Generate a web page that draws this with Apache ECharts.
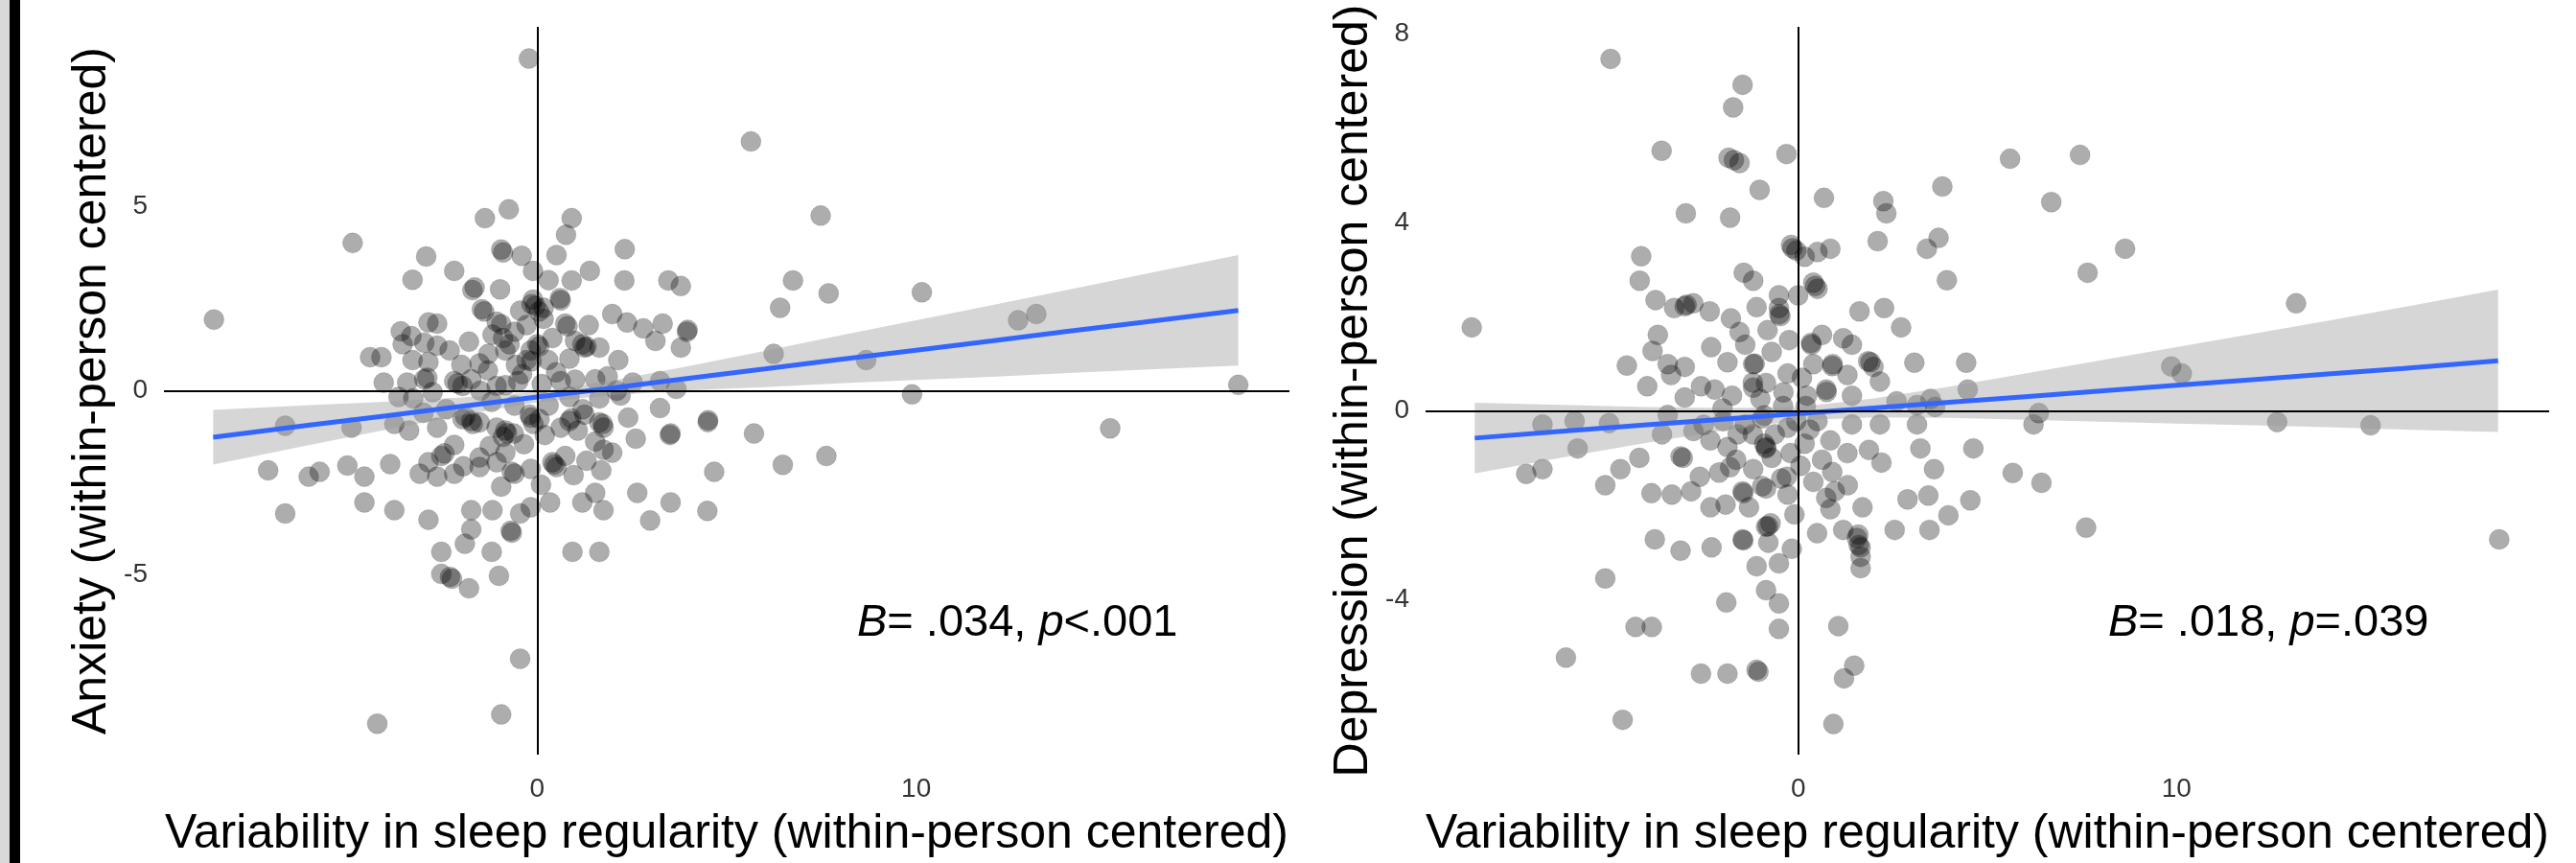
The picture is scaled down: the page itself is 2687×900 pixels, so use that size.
<!DOCTYPE html>
<html>
<head>
<meta charset="utf-8">
<script src="https://cdn.jsdelivr.net/npm/echarts@6/dist/echarts.min.js"></script>
<style>
html, body { margin: 0; padding: 0; background: #fff; }
#chart { width: 2687px; height: 900px; }
</style>
</head>
<body>
<div id="chart"></div>
<script>
var FONT = '"Liberation Sans", Arial, Helvetica, sans-serif';

var xTitle = 'Variability in sleep regularity (within-person centered)';
var anxTitle = 'Anxiety (within-person centered)';
var depTitle = 'Depression (within-person centered)';

var xTicks = [0, 10];
var anxTicks = [-5, 0, 5];
var depTicks = [-4, 0, 4, 8];

// anxiety panel: [sleep variability, anxiety]
var anxietyPoints = [
	[-0.22,9.01],[-4.87,4.01],[-8.53,1.93],[-1.38,4.68],[-0.75,4.92],[0.91,4.68],[0.76,4.23],[-2.93,3.64],
	[-0.95,3.83],[-0.41,3.66],[0.51,3.68],[-3.29,3.01],[-2.19,3.25],[-0.11,3.25],[-0.98,2.75],[-1.71,2.73],
	[0.91,2.99],[1.39,3.25],[0.60,2.51],[-0.11,2.47],[-1.46,2.21],[-0.45,2.17],[0.17,2.25],[1.98,2.08],
	[-2.87,1.85],[-3.60,1.61],[-2.64,1.82],[-1.07,1.87],[0.74,1.82],[1.36,1.78],[-1.80,1.33],[-1.18,1.52],
	[-3.32,1.48],[-2.98,1.30],[-3.55,1.26],[-2.64,1.22],[-0.73,1.26],[0.00,1.26],[1.19,1.26],[1.64,1.17],
	[-4.41,0.91],[-4.11,0.91],[-3.29,0.83],[-2.87,0.78],[-1.29,1.00],[-0.84,1.09],[-0.28,0.83],[0.29,0.83],
	[0.85,0.87],[2.14,0.83],[-1.52,0.74],[-0.56,0.70],[-4.05,0.22],[-3.43,0.22],[-2.98,0.31],[-2.19,0.26],
	[-1.97,0.13],[-1.07,0.13],[-0.50,0.26],[0.12,0.18],[0.62,0.26],[1.53,0.31],[1.86,0.39],[-3.66,-0.17],
	[-3.27,-0.21],[-2.76,-0.04],[0.85,-0.17],[1.64,-0.21],[2.20,-0.13],[-0.28,1.78],[0.17,1.95],[-2.31,1.09],
	[-0.05,2.30],[-0.90,1.43],[-0.17,1.09],[-1.74,0.31],[0.40,1.43],
	[-6.65,-0.95],[-4.90,-1.00],[-3.77,-0.90],[-3.38,-1.08],[-2.64,-1.00],[-1.97,-0.77],[-1.52,-0.86],[-0.84,-1.08],
	[-0.17,-0.73],[0.85,-0.82],[1.64,-0.86],[-1.74,-0.82],[-1.07,-1.00],[-0.62,-1.16],[0.06,-0.77],[0.62,-1.00],
	[1.07,-1.08],[1.75,-1.00],[-2.19,-1.47],[-2.53,-1.77],[-2.87,-1.94],[-1.52,-1.81],[-1.07,-1.94],[-0.84,-1.68],
	[0.40,-1.94],[0.74,-1.77],[1.53,-1.38],[1.75,-1.60],[1.98,-1.68],[-7.10,-2.16],[-6.03,-2.33],[-5.74,-2.20],
	[-5.01,-2.03],[-4.56,-2.33],[-3.88,-1.99],[-3.10,-2.25],[-2.64,-2.33],[-2.19,-2.25],[-1.52,-2.07],[-0.67,-2.20],
	[-0.17,-2.12],[0.51,-2.07],[0.96,-2.29],[1.69,-2.16],[-6.65,-3.33],[-4.56,-3.03],[-3.77,-3.24],[-2.87,-3.50],
	[-1.74,-3.24],[-1.18,-3.24],[-0.45,-3.33],[-0.17,-3.16],[0.34,-3.03],[1.19,-3.03],[1.53,-2.77],[1.75,-3.24],
	[-1.74,-3.76],[-0.67,-3.85],[-2.53,-4.37],[-1.91,-4.15],[-1.20,-4.37],[0.93,-4.37],[1.64,-4.37],[-2.53,-4.97],
	[-2.25,-5.10],[-1.80,-5.36],[-1.01,-5.02],[-0.45,-7.27],[-0.95,-8.78],[-4.22,-9.03],
	[5.64,6.76],[7.48,4.75],[2.31,3.84],[2.30,2.99],[3.46,2.99],[3.79,2.84],[6.75,2.99],[7.69,2.64],
	[10.15,2.67],[6.41,2.25],[2.37,1.85],[2.80,1.69],[3.31,1.82],[3.97,1.65],[3.12,1.35],[3.79,1.17],
	[6.24,1.00],[8.68,0.83],[12.69,1.91],[13.17,2.08],[18.50,0.16],[9.89,-0.10],[3.67,0.05],[3.24,0.26],
	[2.52,0.22],[2.40,-0.73],[3.24,-0.47],[3.52,-1.16],[4.51,-0.80],[5.72,-1.16],[4.67,-2.20],[6.48,-2.01],
	[7.63,-1.77],[2.64,-2.77],[3.52,-3.03],[2.98,-3.52],[4.49,-3.26],[15.12,-1.02],
	// overlapping points in the darker clusters
	[-0.90,3.75],[-1.65,2.80],[-0.15,2.35],[0.05,2.15],[0.62,2.45],[-1.40,2.15],[-0.95,1.80],[0.80,1.75],
	[1.30,1.20],[0.05,1.20],[-0.15,0.80],[-0.84,0.15],[-2.90,0.35],[-2.10,0.20],[-1.90,-0.70],[-1.70,-0.90],
	[-0.80,-1.15],[-0.90,-1.25],[-0.20,-0.65],[-0.10,-0.90],[0.45,-2.00],[-0.60,-2.25],[-2.45,-1.70],[0.90,-0.75],
	[-0.70,-3.80],[-2.30,-5.05],[3.95,1.60],[1.25,1.17],[1.00,1.35],[3.50,-1.20],[4.50,-0.85],[1.25,-0.65],
	[1.73,-0.90],[-1.50,0.00],[-1.20,-0.30],[-0.60,-0.40],[0.30,-0.40],[1.20,-0.50],[-2.40,-0.50],[-3.00,-0.60],
	[0.50,0.50],[-0.40,0.45],[1.00,0.30],[-1.30,0.55],[-2.00,0.70],[-0.60,1.60],[0.30,3.00],[-1.25,-1.50],
	[-0.35,-1.45],[0.20,-1.20],[-1.95,-2.05],[-0.95,-2.60],[0.10,-2.55],[1.30,-1.90],[2.60,-1.30],[2.10,0.00]
];

// depression panel: [sleep variability, depression]
var depressionPoints = [
	[-4.96,7.47],[-1.47,6.92],[-1.72,6.44],[-3.61,5.52],[-1.84,5.37],[-1.55,5.26],[-0.31,5.45],[-1.02,4.69],
	[0.68,4.52],[2.25,4.45],[2.33,4.19],[-2.97,4.19],[-1.80,4.10],[-0.19,3.52],[-0.05,3.40],[0.17,3.27],
	[0.51,3.37],[0.85,3.44],[2.10,3.60],[-4.15,3.28],[-4.19,2.76],[-1.44,2.93],[-1.19,2.76],[0.40,2.72],
	[0.51,2.59],[-0.51,2.45],[0.00,2.45],[-3.77,2.35],[-3.28,2.18],[-3.00,2.22],[-2.77,2.28],[-2.34,2.11],
	[-1.78,1.96],[-1.10,2.20],[-0.51,2.18],[-0.47,2.01],[1.62,2.11],[2.27,2.18],[2.72,1.77],[-8.63,1.77],
	[-3.71,1.61],[-1.55,1.67],[-0.81,1.71],[-0.24,1.50],[0.34,1.44],[0.63,1.61],[1.19,1.54],[1.42,1.40],
	[1.91,1.03],[-4.53,0.96],[-3.85,1.27],[-3.45,0.99],[-3.00,0.93],[-3.36,0.76],[-1.87,1.03],[-1.19,0.99],
	[-0.85,0.59],[-1.19,0.49],[-0.28,0.79],[0.40,0.99],[0.91,0.99],[0.74,0.45],[1.30,0.76],[1.99,0.93],
	[2.16,0.62],[-3.99,0.52],[-3.00,0.28],[-2.57,0.52],[-2.21,0.45],[-1.75,0.32],[-0.39,0.39],[0.23,0.32],
	[1.42,0.32],
	[-6.76,-0.29],[-5.91,-0.22],[-5.00,-0.26],[-5.83,-0.80],[-7.19,-1.34],[-6.76,-1.24],[-4.70,-1.24],[-5.10,-1.58],
	[-3.88,-1.75],[-3.34,-1.78],[-2.83,-1.71],[-3.11,-0.97],[-3.45,-0.09],[-2.77,-0.43],[-2.32,-0.63],[-1.87,-0.77],
	[-1.64,-1.04],[-0.85,-0.77],[-0.62,-0.50],[-0.96,-0.16],[-0.28,-0.36],[0.17,-0.70],[0.63,-1.04],[0.85,-0.63],
	[1.42,-0.29],[1.87,-0.83],[2.16,-0.29],[0.51,-0.22],[-1.41,-0.29],[-1.98,-0.22],[-2.09,-1.31],[-1.47,-1.71],
	[-0.85,-1.65],[-0.45,-1.44],[-0.28,-1.78],[-2.32,-2.05],[-1.92,-1.99],[-1.30,-2.05],[-0.73,-2.39],[0.40,-1.51],
	[0.74,-1.85],[0.97,-1.71],[1.31,-1.58],[1.70,-2.05],[0.85,-2.09],[1.19,-2.53],[1.59,-2.63],[1.65,-2.90],
	[1.65,-3.10],[1.65,-3.34],[2.55,-2.53],[2.89,-1.88],[-3.79,-2.73],[-3.11,-2.97],[-2.29,-2.90],[-1.47,-2.73],
	[-0.85,-2.46],[-0.79,-2.80],[-0.17,-2.93],[-0.51,-3.24],[-5.10,-3.56],[-1.90,-4.07],[-0.85,-3.81],[-0.51,-4.09],
	[-4.30,-4.59],[-3.87,-4.59],[-0.51,-4.63],[1.06,-4.57],[-6.14,-5.24],[-2.57,-5.58],[-1.87,-5.58],[-1.05,-5.54],
	[1.48,-5.41],[1.21,-5.68],[-4.64,-6.56],[0.93,-6.65],[-0.05,-0.22],[0.06,-1.17],[-1.19,-1.24],
	[5.60,5.35],[7.45,5.43],[3.81,4.76],[6.69,4.43],[3.71,3.67],[3.40,3.44],[8.64,3.44],[7.65,2.93],
	[3.93,2.77],[13.16,2.28],[3.07,1.02],[4.44,1.02],[4.48,0.45],[9.86,0.94],[10.14,0.79],[3.50,0.25],
	[3.14,0.12],[12.66,-0.24],[15.13,-0.31],[6.22,-0.29],[6.36,-0.05],[3.14,-0.29],[3.23,-0.80],[4.63,-0.80],
	[3.59,-1.24],[5.67,-1.32],[6.43,-1.53],[3.44,-1.80],[4.55,-1.90],[3.97,-2.22],[3.47,-2.53],[7.61,-2.48],
	[18.53,-2.73],[3.62,0.08],
	// overlapping points in the darker clusters
	[-0.15,3.45],[0.45,2.65],[-2.95,2.25],[-1.70,5.32],[-0.50,2.05],[0.35,1.40],[0.90,0.95],[1.85,1.05],
	[-1.15,1.00],[-1.20,0.60],[0.75,0.40],[-3.05,-1.00],[-0.85,-0.80],[-0.90,-0.70],[-0.30,-1.40],[-0.95,-1.60],
	[-1.45,-1.75],[1.55,-2.70],[1.60,-2.85],[-1.10,-5.50],[-1.45,-2.75],[-0.80,-2.45],[-1.20,-0.50],[-0.70,-1.00],
	[-0.20,-0.90],[0.30,-0.40],[-1.60,-0.50],[-2.50,-0.30],[0.90,-1.30],[1.30,-0.90],[-0.40,0.10],[0.20,0.10],
	[-2.00,0.05],[-1.00,0.25],[-1.40,1.40],[-0.70,1.25],[-2.30,1.35],[0.10,0.70],[-0.90,-0.10],[-1.80,-1.20],
	[-2.60,-1.40],[-0.10,-2.20],[0.50,-2.60],[-1.10,-3.30],[2.20,-1.10],[2.60,0.20],[-3.60,-0.50],[-4.20,-1.00]
];

// smoother + confidence band
var bandX   = [-8.55, -6, -4, -2, 0, 2, 4, 6, 8, 10, 12, 14, 16, 18.5];
var anxFit  = [-1.26, -0.93, -0.68, -0.42, -0.17, 0.08, 0.34, 0.59, 0.85, 1.10, 1.35, 1.61, 1.86, 2.18];
var anxLow  = [-2.00, -1.47, -1.06, -0.66, -0.31, -0.12, 0.01, 0.10, 0.20, 0.29, 0.38, 0.48, 0.57, 0.68];
var anxHigh = [-0.52, -0.39, -0.30, -0.18, -0.03, 0.28, 0.67, 1.08, 1.50, 1.91, 2.32, 2.74, 3.16, 3.68];
var depFit  = [-0.58, -0.42, -0.30, -0.18, -0.06, 0.06, 0.18, 0.30, 0.42, 0.54, 0.66, 0.78, 0.90, 1.06];
var depLow  = [-1.33, -0.96, -0.68, -0.42, -0.20, -0.14, -0.15, -0.19, -0.23, -0.27, -0.31, -0.35, -0.40, -0.45];
var depHigh = [0.17, 0.12, 0.08, 0.06, 0.08, 0.26, 0.51, 0.79, 1.07, 1.35, 1.63, 1.91, 2.20, 2.57];

var chart = echarts.init(document.getElementById('chart'));

function pairs(xs, ys) {
	return xs.map(function (x, i) { return [x, ys[i]]; });
}

function xAxisFor(idx) {
	return {
		gridIndex: idx, type: 'value', min: -9.85, max: 19.85,
		splitLine: { show: false }, axisLine: { show: false }, axisTick: { show: false },
		axisLabel: { customValues: xTicks, margin: 22, fontSize: 28, color: '#333', fontFamily: FONT },
		name: xTitle, nameLocation: 'middle', nameGap: 58,
		nameTextStyle: { fontSize: 50, color: '#000', fontFamily: FONT }
	};
}

function yAxisFor(idx, min, max, ticks, title) {
	return {
		gridIndex: idx, type: 'value', min: min, max: max,
		splitLine: { show: false }, axisLine: { show: false }, axisTick: { show: false },
		axisLabel: { customValues: ticks, margin: 17, fontSize: 28, color: '#333', fontFamily: FONT },
		name: title, nameLocation: 'middle', nameGap: 50,
		nameTextStyle: { fontSize: 50, color: '#000', fontFamily: FONT }
	};
}

function bandSeries(idx, low, high) {
	return {
		type: 'custom', xAxisIndex: idx, yAxisIndex: idx, z: 3, silent: true,
		data: [[0, 0]],
		renderItem: function (params, api) {
			var pts = [];
			for (var i = 0; i < bandX.length; i++) pts.push(api.coord([bandX[i], high[i]]));
			for (var j = bandX.length - 1; j >= 0; j--) pts.push(api.coord([bandX[j], low[j]]));
			return { type: 'polygon', shape: { points: pts }, style: { fill: 'rgba(153,153,153,0.4)' } };
		}
	};
}

function pointSeries(idx, data) {
	return {
		type: 'scatter', xAxisIndex: idx, yAxisIndex: idx, z: 2, silent: true,
		symbolSize: 21, data: data,
		itemStyle: { color: 'rgba(0,0,0,0.4)', borderColor: 'rgba(0,0,0,0.15)', borderWidth: 1 },
		markLine: {
			silent: true, symbol: 'none', label: { show: false },
			lineStyle: { color: '#000', width: 2, type: 'solid' },
			data: [{ yAxis: 0 }, { xAxis: 0 }]
		}
	};
}

function fitSeries(idx, ys) {
	return {
		type: 'line', xAxisIndex: idx, yAxisIndex: idx, z: 4, silent: true,
		data: pairs(bandX, ys), symbol: 'none',
		lineStyle: { color: '#3366FF', width: 5 }
	};
}

var option = {
	backgroundColor: '#fff',
	animation: false,
	grid: [
		{ left: 171, top: 28, width: 1174, height: 760 },
		{ left: 1487, top: 28, width: 1172, height: 760 }
	],
	xAxis: [xAxisFor(0), xAxisFor(1)],
	yAxis: [
		yAxisFor(0, -9.87, 9.87, anxTicks, anxTitle),
		yAxisFor(1, -7.3, 8.15, depTicks, depTitle)
	],
	graphic: [
		{ type: 'rect', shape: { x: 0, y: 0, width: 10, height: 900 }, style: { fill: '#d9d9d9' } },
		{ type: 'rect', shape: { x: 10, y: 0, width: 11, height: 900 }, style: { fill: '#000' } },
		{
			type: 'text', x: 894, y: 650,
			style: {
				text: '{i|B}= .034, {i|p}<.001', fontSize: 47, fontFamily: FONT, fill: '#000', verticalAlign: 'middle',
				rich: { i: { fontStyle: 'italic', fontSize: 47, fontFamily: FONT } }
			}
		},
		{
			type: 'text', x: 2199, y: 650,
			style: {
				text: '{i|B}= .018, {i|p}=.039', fontSize: 47, fontFamily: FONT, fill: '#000', verticalAlign: 'middle',
				rich: { i: { fontStyle: 'italic', fontSize: 47, fontFamily: FONT } }
			}
		}
	],
	series: [
		pointSeries(0, anxietyPoints),
		bandSeries(0, anxLow, anxHigh),
		fitSeries(0, anxFit),
		pointSeries(1, depressionPoints),
		bandSeries(1, depLow, depHigh),
		fitSeries(1, depFit)
	]
};

chart.setOption(option);
</script>
</body>
</html>
